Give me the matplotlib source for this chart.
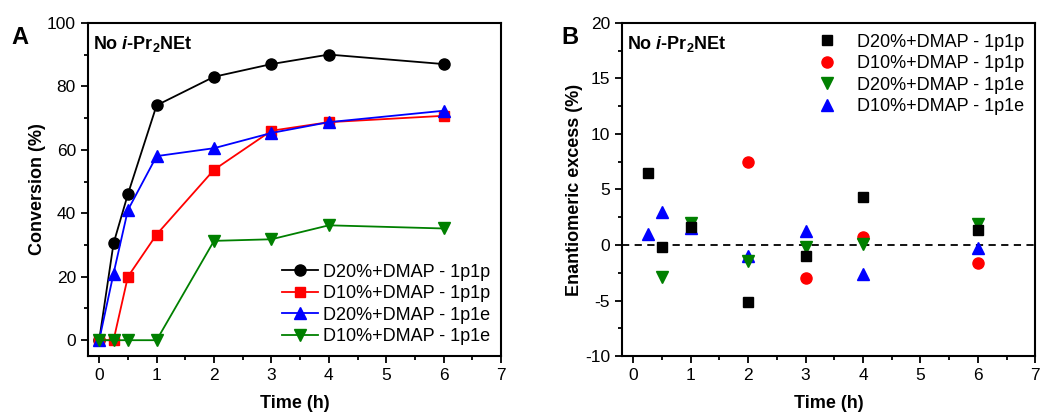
import matplotlib
matplotlib.use("Agg")
import matplotlib.pyplot as plt
from matplotlib.ticker import MultipleLocator

plt.rcParams['font.family'] = ['Liberation Sans', 'DejaVu Sans']
plt.rcParams['axes.unicode_minus'] = False
plt.rcParams['mathtext.fontset'] = 'custom'
plt.rcParams['mathtext.rm'] = 'Liberation Sans'
plt.rcParams['mathtext.bf'] = 'Liberation Sans:bold'
plt.rcParams['mathtext.it'] = 'Liberation Sans:italic'
plt.rcParams['mathtext.bfit'] = 'Liberation Sans:bold:italic'

# Panel A data
time_a = [0, 0.25, 0.5, 1, 2, 3, 4, 6]
conv_d20_1p1p = [0, 30.5, 46, 74, 83, 87, 90, 87]
conv_d10_1p1p = [0, 0, 20, 33.3, 53.7, 66, 68.7, 70.7]
conv_d20_1p1e = [0, 21, 41, 58, 60.5, 65.3, 68.7, 72.3]
conv_d10_1p1e = [0, 0, 0, 0, 31.3, 31.8, 36.2, 35.2]
labels_a = ["D20%+DMAP - 1p1p", "D10%+DMAP - 1p1p", "D20%+DMAP - 1p1e", "D10%+DMAP - 1p1e"]

# Panel B data
t_b_black = [0.25, 0.5, 1, 2, 3, 4, 6]
ee_black = [6.5, -0.15, 1.65, -5.15, -0.95, 4.35, 1.35]
t_b_red = [2, 3, 4, 6]
ee_red = [7.45, -3.0, 0.7, -1.65]
t_b_green = [0.5, 1, 2, 3, 4, 6]
ee_green = [-2.9, 1.95, -1.45, -0.15, 0.05, 1.9]
t_b_blue = [0.25, 0.5, 1, 2, 3, 4, 6]
ee_blue = [0.95, 2.95, 1.5, -0.95, 1.3, -2.6, -0.25]
labels_b = ["D20%+DMAP - 1p1p", "D10%+DMAP - 1p1p", "D20%+DMAP - 1p1e", "D10%+DMAP - 1p1e"]

fig = plt.figure(figsize=(10.44, 4.15), dpi=100)
axA = fig.add_axes([0.084, 0.142, 0.396, 0.803])
axB = fig.add_axes([0.5955, 0.142, 0.3962, 0.803])

ms = 8
axA.plot(time_a, conv_d20_1p1p, '-o', color='black', ms=ms, lw=1.3, label=labels_a[0])
axA.plot(time_a, conv_d10_1p1p, '-s', color='red', ms=ms-1, lw=1.3, label=labels_a[1])
axA.plot(time_a, conv_d20_1p1e, '-^', color='blue', ms=ms, lw=1.3, label=labels_a[2])
axA.plot(time_a, conv_d10_1p1e, '-v', color='green', ms=ms, lw=1.3, label=labels_a[3])
axA.set_xlim(-0.2, 7)
axA.set_ylim(-5, 100)
axA.xaxis.set_major_locator(MultipleLocator(1))
axA.xaxis.set_minor_locator(MultipleLocator(0.5))
axA.yaxis.set_major_locator(MultipleLocator(20))
axA.yaxis.set_minor_locator(MultipleLocator(10))
axA.set_xlabel('Time (h)', fontsize=13, fontweight='bold', labelpad=9)
axA.set_ylabel('Conversion (%)', fontsize=13, fontweight='bold', labelpad=1)
axA.legend(loc='lower right', frameon=False, fontsize=13, handlelength=2.0,
           handletextpad=0.3, labelspacing=0.25, borderaxespad=0.2)
axA.text(0.013, 0.965, r'No $\mathbfit{i}$-Pr$_{\mathbf{2}}$NEt', transform=axA.transAxes,
         fontsize=13, fontweight='bold', va='top', ha='left')
fig.text(0.011, 0.895, 'A', fontsize=17, fontweight='bold')

axB.axhline(0, color='black', ls='--', lw=1.3, dashes=(4, 3))
axB.plot(t_b_black, ee_black, 's', color='black', ms=ms-1, ls='none', label=labels_b[0], zorder=5)
axB.plot(t_b_red, ee_red, 'o', color='red', ms=ms, ls='none', label=labels_b[1], zorder=3)
axB.plot(t_b_green, ee_green, 'v', color='green', ms=ms, ls='none', label=labels_b[2], zorder=4)
axB.plot(t_b_blue, ee_blue, '^', color='blue', ms=ms, ls='none', label=labels_b[3], zorder=3)
axB.set_xlim(-0.2, 7)
axB.set_ylim(-10, 20)
axB.xaxis.set_major_locator(MultipleLocator(1))
axB.xaxis.set_minor_locator(MultipleLocator(0.5))
axB.yaxis.set_major_locator(MultipleLocator(5))
axB.yaxis.set_minor_locator(MultipleLocator(2.5))
axB.set_xlabel('Time (h)', fontsize=13, fontweight='bold', labelpad=9)
axB.set_ylabel('Enantiomeric excess (%)', fontsize=13, fontweight='bold', labelpad=1)
axB.legend(loc='upper right', frameon=False, fontsize=13, handlelength=2.0,
           handletextpad=0.7, labelspacing=0.25, borderaxespad=0.2)
axB.text(0.013, 0.965, r'No $\mathbfit{i}$-Pr$_{\mathbf{2}}$NEt', transform=axB.transAxes,
         fontsize=13, fontweight='bold', va='top', ha='left')
fig.text(0.538, 0.895, 'B', fontsize=17, fontweight='bold')

for ax in (axA, axB):
    for s in ax.spines.values():
        s.set_linewidth(1.5)
    ax.tick_params(which='both', direction='out', width=1.3, labelsize=12.5, top=False, right=False)
    ax.tick_params(which='major', length=5)
    ax.tick_params(which='minor', length=3)

fig.savefig('out.png', dpi=100)
